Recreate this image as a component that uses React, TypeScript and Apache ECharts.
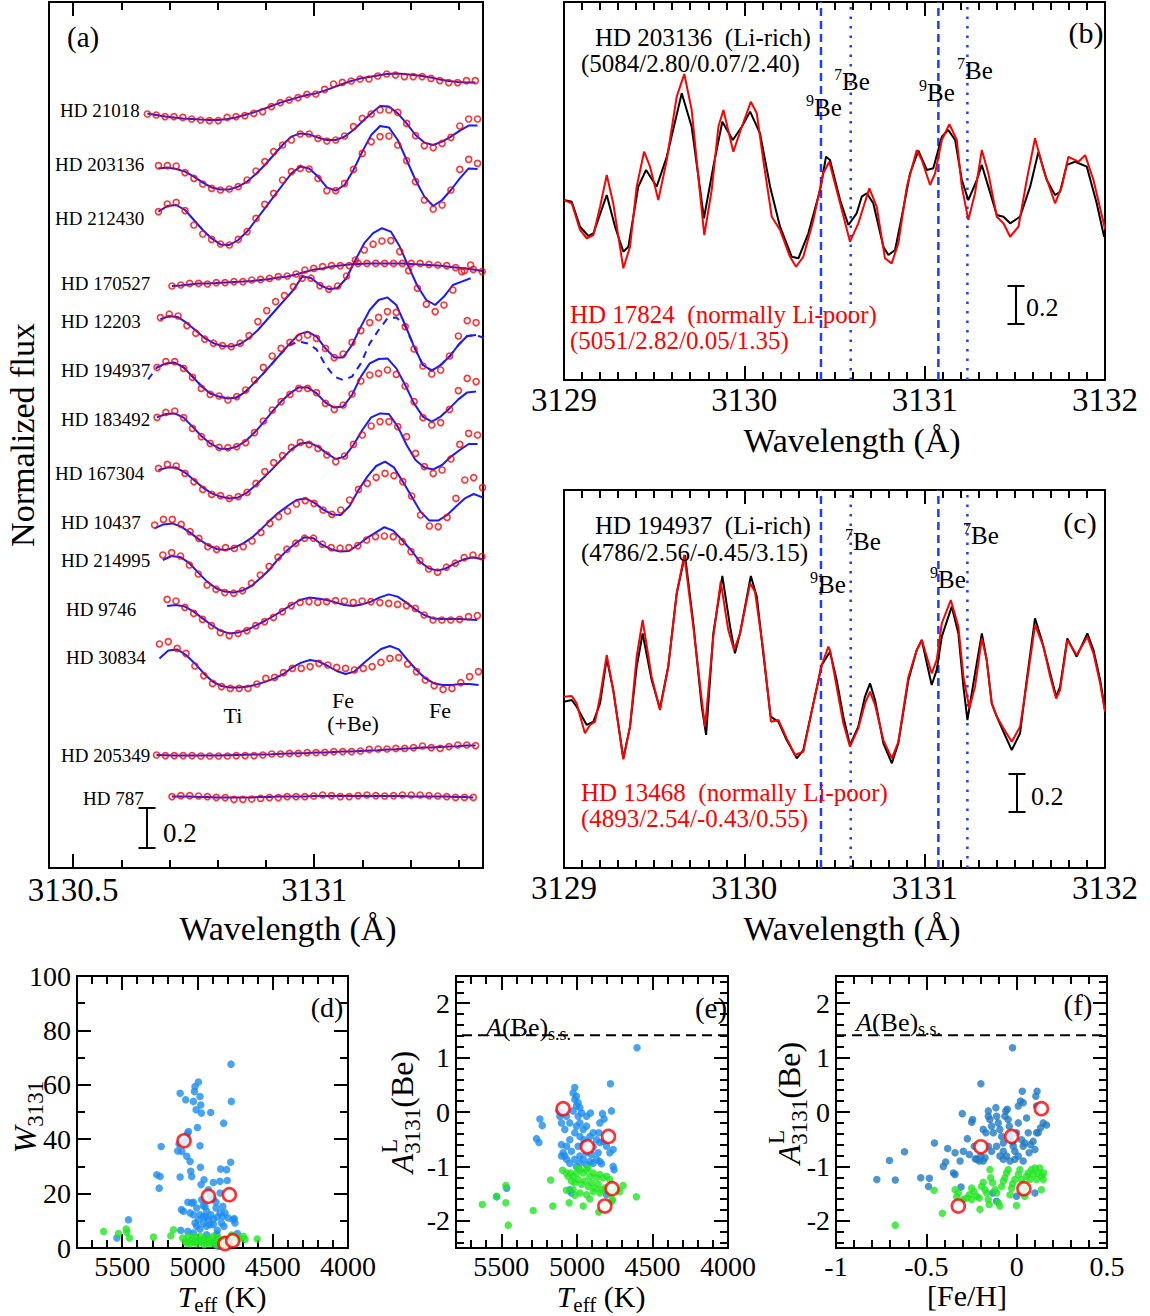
import React, { useEffect, useRef } from "react";
import * as echarts from "echarts";

const FONT = "'Liberation Serif', 'Times New Roman', Times, serif";
const MODEL_BLUE = "#1a1aff";
const RED = "#ff0000";

// ---------------- Panel (a): stacked spectra ----------------
const GRID_STEP_A = 0.01838; // wavelength step of the observed grid (Å)
const starLabels = ["HD 21018", "HD 203136", "HD 212430", "HD 170527", "HD 12203", "HD 194937", "HD 183492", "HD 167304", "HD 10437", "HD 214995", "HD 9746", "HD 30834", "HD 205349", "HD 787"];
const startWavelengths = [3130.654, 3130.677, 3130.677, 3130.705, 3130.681, 3130.674, 3130.674, 3130.677, 3130.669, 3130.686, 3130.695, 3130.679, 3130.673, 3130.705];

const obs21018 = [3.770,3.765,3.757,3.757,3.753,3.745,3.740,3.737,3.737,3.753,3.757,3.762,3.773,3.782,3.807,3.827,3.840,3.852,3.868,3.870,3.893,3.920,3.928,3.935,3.945,3.945,3.960,3.970,3.965,3.957,3.957,3.957,3.948,3.937,3.927,3.927,3.937,3.937];
const fit21018 = [3.773,3.765,3.757,3.753,3.748,3.745,3.742,3.740,3.740,3.745,3.753,3.765,3.778,3.793,3.810,3.827,3.840,3.853,3.865,3.873,3.887,3.903,3.920,3.935,3.947,3.955,3.963,3.970,3.972,3.970,3.965,3.960,3.952,3.943,3.935,3.930,3.927,3.927];
const obs203136 = [3.512,3.512,3.510,3.477,3.448,3.420,3.398,3.390,3.395,3.407,3.440,3.485,3.532,3.582,3.615,3.640,3.670,3.670,3.648,3.635,3.640,3.660,3.707,3.748,3.770,3.790,3.790,3.778,3.723,3.662,3.612,3.602,3.623,3.653,3.710,3.745,3.745];
const fit203136 = [3.498,3.502,3.495,3.482,3.457,3.427,3.403,3.393,3.393,3.407,3.432,3.470,3.515,3.565,3.615,3.657,3.673,3.668,3.652,3.640,3.640,3.657,3.690,3.732,3.773,3.810,3.807,3.773,3.723,3.665,3.627,3.615,3.632,3.657,3.687,3.712,3.712];
const obs212430 = [3.282,3.320,3.328,3.287,3.215,3.170,3.143,3.120,3.115,3.143,3.182,3.248,3.318,3.373,3.440,3.482,3.498,3.495,3.448,3.387,3.387,3.423,3.493,3.573,3.632,3.657,3.660,3.615,3.537,3.432,3.340,3.295,3.315,3.390,3.493,3.543,3.523];
const fit212430 = [3.282,3.310,3.315,3.290,3.240,3.190,3.148,3.118,3.115,3.140,3.182,3.240,3.298,3.357,3.415,3.473,3.507,3.498,3.457,3.403,3.387,3.415,3.490,3.582,3.665,3.710,3.703,3.640,3.540,3.440,3.357,3.310,3.340,3.390,3.448,3.498,3.495];
const obs170527 = [2.910,2.915,2.923,2.923,2.920,2.927,2.927,2.932,2.932,2.940,2.943,2.948,2.957,2.960,2.970,2.990,2.998,3.007,3.012,3.012,3.012,3.023,3.023,3.023,3.023,3.023,3.023,3.023,3.023,3.018,3.015,3.012,3.002,2.987,2.993,2.982];
const fit170527 = [2.910,2.913,2.918,2.922,2.923,2.925,2.928,2.930,2.932,2.935,2.940,2.945,2.952,2.958,2.968,2.980,2.992,2.998,3.007,3.012,3.017,3.020,3.023,3.023,3.023,3.023,3.022,3.020,3.018,3.015,3.012,3.007,3.002,2.997,2.992,2.985];
const obs12203 = [2.752,2.769,2.760,2.712,2.674,2.644,2.624,2.612,2.607,2.624,2.662,2.732,2.787,2.832,2.862,2.907,2.949,2.949,2.912,2.894,2.910,2.960,3.040,3.090,3.119,3.135,3.137,3.082,2.987,2.899,2.819,2.782,2.815,2.890,2.982,3.015];
const fit12203 = [2.744,2.760,2.754,2.724,2.687,2.649,2.624,2.610,2.607,2.620,2.649,2.690,2.740,2.790,2.840,2.890,2.957,2.950,2.915,2.894,2.900,2.950,3.040,3.124,3.174,3.199,3.182,3.107,3.007,2.910,2.840,2.815,2.857,2.915,2.932,2.949];
const obs194937 = [2.503,2.532,2.532,2.498,2.453,2.398,2.368,2.360,2.340,2.357,2.390,2.440,2.503,2.560,2.598,2.628,2.652,2.665,2.648,2.598,2.552,2.570,2.628,2.687,2.727,2.753,2.782,2.778,2.707,2.595,2.510,2.470,2.490,2.560,2.660,2.737,2.727];
const fit194937 = [2.503,2.523,2.527,2.503,2.457,2.410,2.373,2.357,2.348,2.353,2.382,2.427,2.473,2.523,2.573,2.623,2.668,2.682,2.657,2.598,2.553,2.553,2.615,2.707,2.790,2.840,2.853,2.815,2.715,2.607,2.515,2.487,2.515,2.557,2.615,2.660,2.665];
// alternative synthesis for HD 194937 (dashed), starts one grid step earlier
const alt194937 = [2.443,2.503,2.523,2.527,2.503,2.457,2.410,2.373,2.357,2.348,2.353,2.382,2.427,2.473,2.523,2.573,2.615,2.632,2.623,2.593,2.515,2.457,2.440,2.457,2.523,2.623,2.690,2.748,2.753,2.710,2.607,2.515,2.487,2.515,2.557,2.615,2.660,2.665,2.648];
const obs183492 = [2.253,2.278,2.285,2.252,2.198,2.157,2.123,2.103,2.102,2.107,2.127,2.177,2.235,2.290,2.332,2.368,2.398,2.398,2.377,2.323,2.293,2.315,2.370,2.435,2.465,2.473,2.490,2.468,2.410,2.332,2.252,2.215,2.227,2.293,2.387,2.448,2.432];
const fit183492 = [2.253,2.270,2.273,2.252,2.207,2.160,2.123,2.098,2.095,2.107,2.135,2.177,2.227,2.282,2.332,2.373,2.403,2.403,2.373,2.327,2.302,2.307,2.365,2.457,2.523,2.545,2.548,2.498,2.415,2.323,2.257,2.232,2.257,2.298,2.343,2.378,2.382];
const obs167304 = [1.998,2.018,2.010,1.973,1.932,1.893,1.868,1.862,1.848,1.857,1.878,1.923,1.982,2.027,2.062,2.103,2.128,2.118,2.098,2.065,2.032,2.060,2.118,2.165,2.210,2.232,2.232,2.207,2.157,2.073,2.007,1.973,1.990,2.045,2.118,2.173,2.165];
const fit167304 = [1.990,2.002,2.002,1.977,1.940,1.903,1.873,1.857,1.848,1.853,1.877,1.915,1.957,2.002,2.048,2.093,2.123,2.127,2.107,2.073,2.045,2.057,2.115,2.190,2.253,2.273,2.270,2.207,2.115,2.040,2.003,1.993,2.015,2.057,2.090,2.120,2.120];
const obs10437 = [1.715,1.743,1.743,1.718,1.682,1.648,1.607,1.593,1.602,1.598,1.607,1.635,1.678,1.723,1.757,1.785,1.820,1.837,1.823,1.790,1.768,1.790,1.840,1.893,1.923,1.953,1.973,1.962,1.932,1.860,1.765,1.710,1.707,1.753,1.848,1.940,1.952,1.902];
const fit10437 = [1.698,1.718,1.723,1.707,1.677,1.643,1.615,1.595,1.590,1.602,1.623,1.653,1.693,1.737,1.777,1.810,1.840,1.848,1.827,1.793,1.768,1.765,1.810,1.890,1.957,2.010,2.032,2.003,1.932,1.857,1.782,1.737,1.737,1.765,1.807,1.848,1.870,1.853];
const obs214995 = [1.565,1.577,1.560,1.515,1.470,1.415,1.394,1.377,1.374,1.387,1.424,1.465,1.508,1.554,1.594,1.624,1.649,1.649,1.619,1.602,1.599,1.602,1.612,1.640,1.657,1.660,1.657,1.632,1.582,1.537,1.495,1.479,1.504,1.524,1.552,1.565,1.557];
const fit214995 = [1.540,1.560,1.554,1.524,1.477,1.432,1.399,1.382,1.377,1.387,1.410,1.449,1.490,1.544,1.587,1.624,1.654,1.649,1.615,1.594,1.582,1.585,1.615,1.649,1.677,1.704,1.687,1.640,1.590,1.532,1.499,1.487,1.499,1.524,1.544,1.554,1.544];
const obs9746 = [1.343,1.335,1.303,1.273,1.243,1.212,1.177,1.162,1.173,1.187,1.212,1.232,1.253,1.282,1.312,1.328,1.332,1.328,1.332,1.337,1.335,1.328,1.335,1.332,1.327,1.323,1.318,1.312,1.298,1.265,1.240,1.240,1.240,1.243,1.257,1.262];
const fit9746 = [1.310,1.315,1.307,1.282,1.248,1.215,1.187,1.173,1.177,1.190,1.212,1.235,1.260,1.287,1.315,1.340,1.352,1.348,1.340,1.328,1.315,1.310,1.318,1.332,1.353,1.368,1.357,1.327,1.293,1.265,1.248,1.245,1.245,1.245,1.243,1.240];
const obs30834 = [1.120,1.132,1.098,1.073,1.010,0.962,0.923,0.907,0.898,0.898,0.898,0.920,0.948,0.953,0.977,0.998,0.998,1.007,1.023,1.015,1.003,0.998,0.990,0.998,1.007,1.028,1.048,1.052,1.020,0.982,0.940,0.912,0.893,0.898,0.927,0.957,0.982];
const fit30834 = [1.048,1.087,1.093,1.065,1.023,0.973,0.932,0.910,0.902,0.902,0.907,0.918,0.932,0.948,0.970,1.003,1.027,1.040,1.032,1.010,0.985,0.970,0.982,1.023,1.060,1.095,1.110,1.093,1.040,0.990,0.948,0.923,0.915,0.915,0.920,0.920,0.915];
const obs205349 = [0.565,0.562,0.562,0.562,0.562,0.560,0.560,0.560,0.560,0.562,0.562,0.562,0.565,0.570,0.570,0.573,0.573,0.577,0.577,0.578,0.582,0.582,0.582,0.585,0.593,0.595,0.595,0.598,0.598,0.602,0.610,0.602,0.598,0.607,0.615,0.615,0.612];
const fit205349 = [0.565,0.564,0.563,0.563,0.563,0.563,0.563,0.563,0.564,0.565,0.566,0.567,0.568,0.569,0.571,0.573,0.574,0.575,0.577,0.578,0.580,0.582,0.583,0.585,0.587,0.589,0.592,0.594,0.598,0.599,0.602,0.603,0.605,0.607,0.609,0.612,0.613];
const obs787 = [0.357,0.362,0.362,0.360,0.357,0.353,0.352,0.343,0.343,0.345,0.348,0.352,0.352,0.357,0.357,0.357,0.360,0.365,0.362,0.357,0.357,0.362,0.365,0.362,0.360,0.362,0.365,0.365,0.365,0.362,0.360,0.357,0.353,0.353,0.353];
const fit787 = [0.357,0.357,0.357,0.355,0.355,0.353,0.353,0.353,0.353,0.353,0.355,0.355,0.357,0.357,0.358,0.358,0.360,0.360,0.360,0.360,0.360,0.360,0.360,0.360,0.360,0.360,0.360,0.358,0.358,0.358,0.357,0.357,0.355,0.355,0.353];

const observedSets = [obs21018, obs203136, obs212430, obs170527, obs12203, obs194937, obs183492, obs167304, obs10437, obs214995, obs9746, obs30834, obs205349, obs787];
const fitSets = [fit21018, fit203136, fit212430, fit170527, fit12203, fit194937, fit183492, fit167304, fit10437, fit214995, fit9746, fit30834, fit205349, fit787];
// label anchor (left, middle) for each star name
const starLabelPos = [[60,110],[55,164],[55,218],[61,283],[61,321],[61,370],[61,419],[55,473],[61,522],[61,560],[66,609],[66,657],[61,755],[83,798]];

// ---------------- Panels (b), (c) ----------------
const specB_LiRich = [[3129.000,0.952],[3129.043,0.943],[3129.089,0.811],[3129.135,0.762],[3129.163,0.776],[3129.237,0.979],[3129.283,0.811],[3129.329,0.679],[3129.357,0.705],[3129.412,1.023],[3129.455,1.111],[3129.514,1.023],[3129.570,1.181],[3129.653,1.517],[3129.708,1.340],[3129.776,0.856],[3129.828,1.129],[3129.878,1.367],[3129.936,1.270],[3129.986,1.340],[3130.032,1.420],[3130.087,1.305],[3130.143,1.023],[3130.198,0.811],[3130.263,0.652],[3130.300,0.644],[3130.355,0.776],[3130.420,1.005],[3130.453,1.181],[3130.475,1.164],[3130.531,0.952],[3130.577,0.820],[3130.623,0.882],[3130.651,0.970],[3130.679,0.988],[3130.715,0.935],[3130.771,0.705],[3130.799,0.661],[3130.836,0.688],[3130.873,0.864],[3130.919,1.094],[3130.965,1.213],[3131.012,1.111],[3131.048,1.120],[3131.095,1.287],[3131.131,1.323],[3131.169,1.270],[3131.206,1.058],[3131.242,0.952],[3131.289,1.058],[3131.317,1.138],[3131.353,1.023],[3131.400,0.873],[3131.437,0.864],[3131.474,0.829],[3131.529,0.864],[3131.585,1.023],[3131.631,1.208],[3131.677,1.058],[3131.723,0.979],[3131.751,0.996],[3131.788,1.138],[3131.834,1.155],[3131.899,1.129],[3131.954,0.935],[3131.995,0.758]];
const specB_LiPoor = [[3129.000,0.952],[3129.043,0.935],[3129.089,0.794],[3129.126,0.750],[3129.163,0.767],[3129.200,0.917],[3129.237,1.085],[3129.273,0.935],[3129.329,0.591],[3129.366,0.705],[3129.403,1.023],[3129.444,1.208],[3129.477,1.129],[3129.523,0.952],[3129.570,1.164],[3129.625,1.499],[3129.667,1.619],[3129.708,1.429],[3129.754,0.988],[3129.778,0.767],[3129.819,1.005],[3129.856,1.340],[3129.884,1.429],[3129.939,1.208],[3129.986,1.340],[3130.036,1.472],[3130.069,1.411],[3130.105,1.164],[3130.152,0.864],[3130.198,0.794],[3130.253,0.652],[3130.287,0.599],[3130.327,0.652],[3130.383,0.847],[3130.438,1.094],[3130.471,1.155],[3130.531,0.935],[3130.586,0.732],[3130.632,0.829],[3130.693,1.014],[3130.734,0.917],[3130.780,0.644],[3130.817,0.617],[3130.854,0.723],[3130.901,1.023],[3130.956,1.217],[3130.984,1.164],[3131.030,1.032],[3131.058,1.094],[3131.095,1.270],[3131.137,1.354],[3131.178,1.270],[3131.206,1.023],[3131.242,0.847],[3131.279,0.988],[3131.317,1.217],[3131.353,1.094],[3131.400,0.864],[3131.437,0.829],[3131.474,0.758],[3131.520,0.811],[3131.566,1.058],[3131.612,1.279],[3131.659,1.111],[3131.723,0.935],[3131.760,1.023],[3131.797,1.181],[3131.853,1.155],[3131.890,1.190],[3131.936,1.058],[3132.000,0.800]];
const specC_LiRich = [[3129.000,0.880],[3129.043,0.889],[3129.070,0.853],[3129.126,0.757],[3129.163,0.774],[3129.200,0.871],[3129.237,1.109],[3129.273,0.942],[3129.329,0.580],[3129.366,0.748],[3129.403,1.065],[3129.436,1.241],[3129.486,0.995],[3129.532,0.844],[3129.578,1.065],[3129.625,1.453],[3129.671,1.656],[3129.717,1.295],[3129.764,0.853],[3129.788,0.704],[3129.828,1.241],[3129.878,1.545],[3129.921,1.277],[3129.948,1.136],[3129.976,1.241],[3130.036,1.545],[3130.069,1.436],[3130.105,1.136],[3130.146,0.801],[3130.189,0.774],[3130.235,0.677],[3130.291,0.580],[3130.327,0.624],[3130.383,0.871],[3130.429,1.074],[3130.475,1.144],[3130.512,0.995],[3130.549,0.801],[3130.586,0.651],[3130.632,0.748],[3130.669,0.907],[3130.697,0.977],[3130.725,0.889],[3130.771,0.660],[3130.818,0.554],[3130.854,0.660],[3130.910,0.995],[3130.956,1.153],[3130.984,1.206],[3131.012,1.083],[3131.039,0.968],[3131.067,1.048],[3131.095,1.224],[3131.150,1.383],[3131.187,1.241],[3131.215,0.959],[3131.237,0.783],[3131.270,0.977],[3131.317,1.241],[3131.344,1.101],[3131.372,0.871],[3131.400,0.801],[3131.437,0.721],[3131.483,0.624],[3131.529,0.713],[3131.566,0.995],[3131.612,1.321],[3131.649,1.206],[3131.696,1.030],[3131.729,0.907],[3131.751,0.959],[3131.791,1.215],[3131.843,1.118],[3131.902,1.241],[3131.936,1.153],[3131.973,0.995],[3132.000,0.836]];
const specC_LiPoor = [[3129.000,0.906],[3129.043,0.910],[3129.070,0.871],[3129.116,0.713],[3129.144,0.757],[3129.172,0.774],[3129.200,0.906],[3129.237,1.127],[3129.273,0.942],[3129.329,0.575],[3129.366,0.748],[3129.403,1.118],[3129.436,1.312],[3129.486,1.012],[3129.532,0.836],[3129.578,1.065],[3129.625,1.453],[3129.667,1.656],[3129.717,1.277],[3129.764,0.889],[3129.782,0.748],[3129.828,1.224],[3129.869,1.515],[3129.911,1.259],[3129.943,1.153],[3129.976,1.241],[3130.032,1.506],[3130.059,1.462],[3130.105,1.153],[3130.148,0.774],[3130.189,0.783],[3130.235,0.686],[3130.281,0.598],[3130.327,0.615],[3130.383,0.871],[3130.429,1.074],[3130.466,1.171],[3130.475,1.153],[3130.512,0.959],[3130.549,0.766],[3130.586,0.642],[3130.632,0.739],[3130.669,0.871],[3130.697,0.933],[3130.725,0.862],[3130.771,0.677],[3130.818,0.580],[3130.854,0.668],[3130.910,1.012],[3130.956,1.153],[3130.984,1.206],[3131.012,1.118],[3131.039,1.030],[3131.067,1.101],[3131.095,1.295],[3131.145,1.418],[3131.187,1.277],[3131.215,1.012],[3131.248,0.845],[3131.279,0.959],[3131.317,1.215],[3131.344,1.101],[3131.372,0.871],[3131.400,0.801],[3131.437,0.739],[3131.483,0.668],[3131.529,0.748],[3131.566,0.977],[3131.612,1.286],[3131.659,1.171],[3131.696,1.012],[3131.729,0.897],[3131.751,0.942],[3131.791,1.206],[3131.843,1.127],[3131.902,1.224],[3131.936,1.136],[3131.973,0.977],[3132.000,0.827]];
const be9Lines = [3130.425, 3131.076];
const be7Lines = [3130.59, 3131.237];

// ---------------- Panels (d), (e), (f) ----------------
const wBlue = [[4777,67.6],[4994,61.0],[5016,59.4],[5020,57.5],[5115,56.9],[5078,54.5],[4983,55.7],[5027,53.9],[4978,52.6],[4912,49.8],[5009,50.8],[4974,49.6],[4775,53.9],[4826,45.9],[5000,44.3],[5060,42.8],[5067,42.0],[5071,39.8],[5095,38.8],[5122,38.2],[5131,35.7],[4983,37.6],[5104,35.5],[5071,33.7],[5049,31.8],[5241,37.3],[4846,29.0],[4806,28.8],[4779,31.5],[4980,29.7],[5045,28.2],[5038,26.3],[5115,26.1],[5270,26.9],[5248,26.3],[5254,22.0],[4956,25.1],[4894,24.1],[4850,24.5],[4802,24.8],[4976,23.3],[5106,14.1],[5093,13.5],[5038,16.5],[5027,16.8],[4961,15.5],[4950,15.3],[4894,18.0],[4877,16.9],[4850,20.2],[4983,12.2],[4961,11.6],[4943,11.4],[4927,10.4],[4912,12.2],[4894,10.6],[4868,11.4],[4850,12.9],[4832,11.6],[4817,12.9],[4795,11.0],[4755,10.8],[4751,9.2],[5016,9.2],[5005,8.0],[4983,7.0],[4939,8.0],[4894,8.6],[4868,6.5],[4841,9.2],[4824,8.0],[5458,10.4],[5535,3.7],[5111,6.5],[5064,6.1],[5027,5.5],[4939,4.9],[4872,5.1],[4735,5.3],[4894,1.8],[4861,0.6],[4916,19.0],[4927,21.4],[5064,16.8],[5005,14.7],[5049,12.9],[4994,10.4],[4961,9.2],[4916,8.6],[4877,14.7],[4832,15.3],[4939,13.5],[4972,17.7],[5027,12.2],[4762,10.4]];
const wGreen = [[5623,6.1],[5524,5.3],[5473,7.0],[5469,5.8],[5451,3.7],[5292,4.0],[5177,4.5],[5159,6.7],[5098,3.7],[5082,2.4],[5071,1.8],[5060,4.3],[5049,1.6],[5038,3.3],[5027,2.1],[5016,4.0],[5005,1.6],[4994,3.1],[4983,4.3],[4972,2.1],[4961,2.8],[4950,3.7],[4939,1.8],[4927,3.3],[4916,1.6],[4905,2.8],[4894,4.3],[4883,2.1],[4872,3.1],[4861,3.7],[4850,1.6],[4832,2.4],[4817,3.3],[4806,1.2],[4784,3.3],[4773,4.8],[4762,4.0],[4740,3.1],[4718,3.7],[4695,4.3],[4684,3.1],[4603,3.3],[5009,2.4],[4956,1.2],[4877,1.2]];
const wRed = [[5089,39.4],[4927,19.0],[4788,19.6],[4817,1.6],[4766,2.7]];

const aTeffBlue = [[4602,1.18],[4778,0.52],[5014,0.45],[5025,0.35],[5003,0.29],[5014,0.23],[4992,0.17],[5003,0.11],[4980,0.08],[5119,0.02],[5102,-0.02],[5025,0.02],[4969,-0.02],[4910,-0.02],[4831,-0.03],[4771,0.02],[5113,-0.08],[5069,-0.08],[4992,-0.08],[4936,-0.08],[4820,-0.13],[5245,-0.13],[5229,-0.25],[5102,-0.20],[5047,-0.20],[4980,-0.20],[4848,-0.20],[4958,-0.32],[5080,-0.32],[4936,-0.26],[4892,-0.38],[5014,-0.38],[4980,-0.45],[5047,-0.51],[4914,-0.45],[4870,-0.51],[5267,-0.49],[5251,-0.56],[5102,-0.60],[4848,-0.56],[4826,-0.54],[4804,-0.63],[5069,-0.63],[4992,-0.63],[4958,-0.60],[4892,-0.64],[5091,-0.75],[5036,-0.72],[4782,-0.75],[4760,-0.69],[5102,-0.81],[4936,-0.75],[4859,-0.75],[4980,-0.81],[5069,-0.87],[5014,-0.87],[4958,-0.87],[4914,-0.91],[4870,-0.87],[5047,-0.94],[5003,-1.00],[4980,-0.94],[4936,-0.97],[4892,-0.94],[4848,-0.91],[4837,-0.95],[4760,-1.00],[4754,-1.06],[5465,-1.40],[5531,-1.56],[5047,-1.43],[5036,-1.49],[4804,-1.52],[5080,-0.81],[4903,-0.78],[4954,-0.51],[4855,-0.38],[5003,-0.26]];
const aTeffGreen = [[5626,-1.70],[5531,-1.55],[5470,-1.35],[5470,-1.67],[5454,-2.08],[5289,-1.81],[5174,-1.25],[5159,-1.73],[5095,-1.07],[5069,-1.44],[5051,-1.67],[5043,-1.12],[5025,-1.18],[5003,-1.12],[4980,-1.06],[4958,-1.12],[4936,-1.06],[4914,-1.18],[4892,-1.12],[4870,-1.21],[4848,-1.15],[4826,-1.21],[4804,-1.18],[4782,-1.24],[5014,-1.30],[4992,-1.24],[4969,-1.33],[4947,-1.27],[4925,-1.37],[4903,-1.30],[4881,-1.40],[4859,-1.33],[4837,-1.43],[4815,-1.40],[5025,-1.43],[4980,-1.49],[4936,-1.52],[4892,-1.46],[4848,-1.49],[4782,-1.49],[4765,-1.61],[4738,-1.43],[4716,-1.46],[4694,-1.35],[4958,-1.73],[5014,-1.53],[4914,-1.60],[4855,-1.84],[4606,-1.56],[4767,-1.64],[4925,-1.03],[4990,-1.03],[5058,-1.18],[5069,-1.12],[5036,-1.27]];
const aTeffRed = [[5091,0.06],[4930,-0.64],[4791,-0.45],[4767,-1.41],[4815,-1.73]];

const aFehBlue = [[-0.023,1.18],[-0.774,-1.24],[-0.704,-0.89],[-0.672,-1.25],[-0.621,-0.73],[-0.531,-1.21],[-0.488,-1.37],[-0.483,-1.22],[-0.455,-0.57],[-0.406,-1.00],[-0.393,-0.92],[-0.382,-0.67],[-0.350,-1.12],[-0.341,-0.75],[-0.341,-1.15],[-0.313,-0.90],[-0.308,-1.38],[-0.301,-0.03],[-0.295,-0.72],[-0.273,-0.49],[-0.262,-0.78],[-0.249,-0.19],[-0.244,-0.14],[-0.234,-0.63],[-0.229,-0.86],[-0.221,-0.87],[-0.207,-0.90],[-0.199,-0.81],[-0.185,-0.90],[-0.175,-0.84],[-0.198,0.52],[-0.185,-0.32],[-0.170,-0.38],[-0.157,-0.08],[-0.157,0.02],[-0.148,-0.14],[-0.139,-0.26],[-0.129,-0.38],[-0.115,0.08],[-0.111,-0.08],[-0.102,-0.20],[-0.093,-0.32],[-0.083,-0.45],[-0.074,-0.57],[-0.065,-0.08],[-0.060,0.02],[-0.052,0.05],[-0.047,-0.14],[-0.041,-0.26],[-0.037,-0.45],[-0.023,-0.55],[-0.019,-0.63],[-0.010,-0.72],[-0.001,-0.38],[0.009,-0.20],[0.021,0.20],[0.031,0.38],[0.027,-0.51],[0.036,-0.63],[0.045,-0.57],[0.055,-0.11],[0.064,-0.38],[0.069,-0.75],[0.077,-0.60],[0.091,-0.54],[0.101,-0.69],[0.110,0.11],[0.110,-0.38],[0.106,0.29],[0.113,0.38],[0.119,-0.38],[0.132,-0.29],[0.147,-0.20],[0.165,-0.24],[-0.093,-0.81],[-0.074,-0.87],[-0.056,-0.81],[-0.037,-0.90],[-0.010,-0.87],[0.009,-0.81],[0.036,-0.90],[-0.157,-0.63],[-0.139,-0.72],[-0.111,-0.63],[-0.074,-0.72],[-0.133,-1.49],[-0.111,-1.64],[-0.001,-1.55],[0.101,-1.49],[0.036,0.17],[0.009,0.11]];
const aFehGreen = [[-0.672,-2.08],[-0.457,-1.44],[-0.411,-1.86],[-0.341,-1.43],[-0.332,-1.56],[-0.323,-1.49],[-0.295,-1.61],[-0.277,-1.58],[-0.262,-1.52],[-0.249,-1.40],[-0.236,-1.46],[-0.221,-1.55],[-0.207,-1.58],[-0.203,-1.79],[-0.194,-1.37],[-0.185,-1.29],[-0.175,-1.43],[-0.166,-1.49],[-0.157,-1.61],[-0.152,-1.70],[-0.144,-1.21],[-0.133,-1.30],[-0.120,-1.43],[-0.111,-1.49],[-0.102,-1.67],[-0.093,-1.73],[-0.083,-1.37],[-0.074,-1.27],[-0.065,-1.21],[-0.056,-1.12],[-0.047,-1.06],[-0.037,-1.52],[-0.028,-1.40],[-0.023,-1.32],[-0.010,-1.24],[-0.001,-1.72],[0.009,-1.15],[0.018,-1.06],[0.027,-1.24],[0.036,-1.49],[0.045,-1.37],[0.055,-1.18],[0.064,-1.12],[0.073,-1.24],[0.082,-1.06],[0.091,-1.15],[0.101,-1.03],[0.110,-1.24],[0.119,-1.12],[0.128,-1.03],[0.137,-1.18],[0.147,-1.24],[0.150,-1.12],[0.137,-1.43],[0.045,-1.55],[-0.148,-1.06],[-0.249,-1.61]];
const aFehRed = [[-0.323,-1.73],[-0.198,-0.64],[-0.028,-0.45],[0.040,-1.41],[0.137,0.06]];
const solarBe = 1.41;

// tick values
const ticksA = [3130.5, 3131];
const ticksBC = [3129, 3130, 3131, 3132];
const ticksTeff = [4000, 4500, 5000, 5500];
const ticksW = [0, 20, 40, 60, 80, 100];
const ticksABe = [-2, -1, 0, 1, 2];
const ticksFeH = [-1, -0.5, 0, 0.5];

function between(start: number, end: number, step: number, skip: number[]) {
  const out: number[] = [];
  const n = Math.round((end - start) / step);
  for (let i = 0; i <= n; i++) {
    const v = Math.round((start + i * step) * 1000) / 1000;
    if (!skip.some((s) => Math.abs(s - v) < 1e-6)) out.push(v);
  }
  return out;
}

function axisSet(dim: "x" | "y", spec: any) {
  const sides = dim === "x" ? ["bottom", "top"] : ["left", "right"];
  const res: any[] = [];
  sides.forEach((side, k) => {
    const base = {
      type: "value", gridIndex: spec.grid, min: spec.min, max: spec.max, inverse: !!spec.inverse,
      position: side, splitLine: { show: false }, offset: 0,
    };
    res.push({
      ...base,
      axisLine: { show: true, onZero: false, lineStyle: { color: "#000", width: 2 } },
      axisTick: spec.major.length
        ? { show: true, inside: true, length: 14, customValues: spec.major, lineStyle: { color: "#000", width: 2 } }
        : { show: false },
      axisLabel: k === 0 && spec.labelSize
        ? { show: true, customValues: spec.major, fontFamily: FONT, fontSize: spec.labelSize, color: "#000", margin: spec.margin, formatter: (v: number) => String(v) }
        : { show: false },
    });
    res.push({
      ...base,
      axisLine: { show: false, onZero: false },
      axisTick: spec.minor.length
        ? { show: true, inside: true, length: 8, customValues: spec.minor, lineStyle: { color: "#000", width: 2 } }
        : { show: false },
      axisLabel: { show: false },
    });
  });
  return res;
}

function txt(x: number, y: number, text: string, size: number, extra: any = {}) {
  return {
    type: "text", x, y, silent: true, z: 100,
    style: { text, fontFamily: FONT, fontSize: size, fill: "#000", align: "left", verticalAlign: "middle", ...extra },
  };
}
function seg(x1: number, y1: number, x2: number, y2: number) {
  return { type: "line", silent: true, z: 100, shape: { x1, y1, x2, y2 }, style: { stroke: "#000", lineWidth: 2 } };
}
function scaleBar(x: number, y1: number, y2: number, lx: number, ly: number, size: number) {
  return [seg(x, y1, x, y2), seg(x - 8.5, y1, x + 8.5, y1), seg(x - 8.5, y2, x + 8.5, y2), txt(lx, ly, "0.2", size)];
}
const supRich = {
  p: { fontSize: 16, fontFamily: FONT, fill: "#000", verticalAlign: "top", padding: [0, 0, 14, 0] },
};
function beLabel(x: number, y: number, iso: string) {
  return txt(x, y, `{p|${iso}}Be`, 25, { rich: supRich });
}
const subRich = (main: number, sub: number, pad: number) => ({
  i: { fontSize: main, fontFamily: FONT, fontStyle: "italic", fill: "#000" },
  s: { fontSize: sub, fontFamily: FONT, fill: "#000", verticalAlign: "bottom", padding: [pad, 0, 0, 0] },
});
function aBeTitle(x: number, y: number) {
  return {
    type: "group", x, y, rotation: Math.PI / 2, silent: true,
    children: [
      txt(0, 0, "{i|A}{s|3131}(Be)", 32, { align: "center", rich: subRich(32, 23, 20) }),
      txt(-41, -13, "L", 23),
    ],
  };
}

function buildOption() {
  const grids = [
    { left: 49, top: 2, width: 434, height: 866 },
    { left: 564, top: 2, width: 541, height: 378 },
    { left: 564, top: 490, width: 541, height: 378 },
    { left: 77, top: 976, width: 271, height: 272 },
    { left: 456, top: 976, width: 272, height: 272 },
    { left: 836, top: 976, width: 271, height: 272 },
  ];
  const xAxes: any[] = [];
  const yAxes: any[] = [];
  xAxes.push(...axisSet("x", { grid: 0, min: 3130.45, max: 3131.35, major: ticksA, minor: between(3130.6, 3131.3, 0.1, ticksA), labelSize: 33, margin: 5 }));
  yAxes.push(...axisSet("y", { grid: 0, min: 0, max: 4.33, major: [], minor: [] }));
  [1, 2].forEach((g) => {
    xAxes.push(...axisSet("x", { grid: g, min: 3129, max: 3132, major: ticksBC, minor: between(3129.1, 3131.9, 0.1, ticksBC), labelSize: 33, margin: 3 }));
    yAxes.push(...axisSet("y", { grid: g, min: 0, max: 2, major: [], minor: [] }));
  });
  xAxes.push(...axisSet("x", { grid: 3, min: 4000, max: 5800, inverse: true, major: ticksTeff, minor: between(4100, 5700, 100, ticksTeff), labelSize: 28, margin: 4 }));
  yAxes.push(...axisSet("y", { grid: 3, min: 0, max: 100, major: ticksW, minor: [10, 30, 50, 70, 90], labelSize: 28, margin: 6 }));
  xAxes.push(...axisSet("x", { grid: 4, min: 4000, max: 5800, inverse: true, major: ticksTeff, minor: between(4100, 5700, 100, ticksTeff), labelSize: 28, margin: 4 }));
  yAxes.push(...axisSet("y", { grid: 4, min: -2.5, max: 2.5, major: ticksABe, minor: between(-2.4, 2.4, 0.2, ticksABe), labelSize: 28, margin: 6 }));
  xAxes.push(...axisSet("x", { grid: 5, min: -1, max: 0.5, major: ticksFeH, minor: between(-0.9, 0.4, 0.1, ticksFeH), labelSize: 28, margin: 4 }));
  yAxes.push(...axisSet("y", { grid: 5, min: -2.5, max: 2.5, major: ticksABe, minor: between(-2.4, 2.4, 0.2, ticksABe), labelSize: 28, margin: 6 }));

  const ax = (g: number) => ({ xAxisIndex: 4 * g, yAxisIndex: 4 * g });
  const series: any[] = [];
  const lineS = (g: number, data: any[], color: string, width: number, type: any = "solid", z = 2) => ({
    type: "line", ...ax(g), data, showSymbol: false, symbol: "none", silent: true, z,
    lineStyle: { color, width, type }, emphasis: { disabled: true },
  });

  // panel (a)
  fitSets.forEach((fit, i) => {
    const w0 = startWavelengths[i];
    series.push(lineS(0, fit.map((v, k) => [w0 + k * GRID_STEP_A, v]), MODEL_BLUE, 2));
  });
  {
    const w0 = startWavelengths[5] - GRID_STEP_A;
    series.push(lineS(0, alt194937.map((v, k) => [w0 + k * GRID_STEP_A, v]), MODEL_BLUE, 2, [7, 6]));
  }
  observedSets.forEach((obs, i) => {
    const w0 = startWavelengths[i];
    series.push({
      type: "scatter", ...ax(0), data: obs.map((v, k) => [w0 + k * GRID_STEP_A, v]), symbol: "circle", symbolSize: 6,
      itemStyle: { color: "rgba(255,255,255,0)", borderColor: RED, borderWidth: 1.6 }, silent: true, z: 4,
    });
  });

  // panels (b), (c)
  [1, 2].forEach((g) => {
    be9Lines.forEach((w) => series.push(lineS(g, [[w, 0], [w, 2]], "#1f3cff", 2.5, [8, 5], 1)));
    be7Lines.forEach((w) => series.push(lineS(g, [[w, 0], [w, 2]], "#1f3cff", 2.5, [2.5, 7], 1)));
  });
  series.push(lineS(1, specB_LiRich, "#000", 2));
  series.push(lineS(1, specB_LiPoor, RED, 2, "solid", 3));
  series.push(lineS(2, specC_LiRich, "#000", 2));
  series.push(lineS(2, specC_LiPoor, RED, 2, "solid", 3));

  // panels (d), (e), (f)
  const dot = (g: number, data: any[], color: string) => ({
    type: "scatter", ...ax(g), data, symbol: "circle", symbolSize: 7.5, silent: true,
    itemStyle: { color, borderWidth: 0 }, z: 3,
  });
  const ring = (g: number, data: any[]) => ({
    type: "scatter", ...ax(g), data, symbol: "circle", symbolSize: 13, silent: true,
    itemStyle: { color: "#fff", borderColor: RED, borderWidth: 2.6 }, z: 5,
  });
  series.push(dot(3, wBlue, "#1a8cf0"), dot(3, wGreen, "#22e622"), ring(3, wRed));
  series.push(lineS(4, [[4000, solarBe], [5800, solarBe]], "#000", 2, [10, 6]));
  series.push(dot(4, aTeffBlue, "#1a8cf0"), dot(4, aTeffGreen, "#22e622"), ring(4, aTeffRed));
  series.push(lineS(5, [[-1, solarBe], [0.5, solarBe]], "#000", 2, [10, 6]));
  series.push(dot(5, aFehBlue, "#1f7bc4"), dot(5, aFehGreen, "#22e622"), ring(5, aFehRed));

  // texts and annotations
  const g: any[] = [];
  g.push(txt(67, 37, "(a)", 29));
  starLabels.forEach((name, i) => g.push(txt(starLabelPos[i][0], starLabelPos[i][1], name, 19)));
  g.push(txt(233, 715, "Ti", 22, { align: "center" }));
  g.push(txt(343, 700, "Fe", 22, { align: "center" }));
  g.push(txt(353, 723, "(+Be)", 22, { align: "center" }));
  g.push(txt(440, 710, "Fe", 22, { align: "center" }));
  g.push(...scaleBar(147, 808, 848, 163, 833, 27));
  g.push({ type: "group", x: 22, y: 435, rotation: Math.PI / 2, silent: true, children: [txt(0, 0, "Normalized flux", 34, { align: "center" })] });
  g.push(txt(288, 928, "Wavelength (Å)", 34, { align: "center" }));

  // (b)
  g.push(txt(1086, 32, "(b)", 30, { align: "center" }));
  g.push(txt(595, 37, "HD 203136  (Li-rich)", 25));
  g.push(txt(581, 63, "(5084/2.80/0.07/2.40)", 25));
  g.push(txt(570, 314, "HD 17824  (normally Li-poor)", 25, { fill: RED }));
  g.push(txt(570, 340, "(5051/2.82/0.05/1.35)", 25, { fill: RED }));
  g.push(beLabel(806, 107, "9"), beLabel(834, 81, "7"), beLabel(919, 92, "9"), beLabel(957, 70, "7"));
  g.push(...scaleBar(1016, 286, 324, 1026, 307, 26));
  g.push(txt(852, 440, "Wavelength (Å)", 34, { align: "center" }));

  // (c)
  g.push(txt(1080, 522, "(c)", 30, { align: "center" }));
  g.push(txt(595, 525, "HD 194937  (Li-rich)", 25));
  g.push(txt(581, 552, "(4786/2.56/-0.45/3.15)", 25));
  g.push(txt(581, 792, "HD 13468  (normally Li-poor)", 25, { fill: RED }));
  g.push(txt(581, 818, "(4893/2.54/-0.43/0.55)", 25, { fill: RED }));
  g.push(beLabel(810, 584, "9"), beLabel(845, 541, "7"), beLabel(930, 579, "9"), beLabel(963, 535, "7"));
  g.push(...scaleBar(1017, 774, 812, 1031, 796, 26));
  g.push(txt(852, 928, "Wavelength (Å)", 34, { align: "center" }));

  // (d)
  g.push(txt(327, 1007, "(d)", 28, { align: "center" }));
  g.push({ type: "group", x: 25, y: 1117, rotation: Math.PI / 2, silent: true, children: [txt(0, 0, "{i|W}{s|3131}", 32, { align: "center", rich: subRich(32, 23, 20) })] });
  g.push(txt(222, 1296, "{i|T}{s|eff} (K)", 30, { align: "center", rich: subRich(30, 21, 18) }));
  // (e)
  g.push(txt(711, 1008, "(e)", 29, { align: "center" }));
  g.push(aBeTitle(402, 1112));
  g.push(txt(601, 1296, "{i|T}{s|eff} (K)", 30, { align: "center", rich: subRich(30, 21, 18) }));
  g.push(txt(486, 1027, "{i|A}(Be){s|s.s.}", 26, { rich: subRich(26, 18, 14) }));
  // (f)
  g.push(txt(1078, 1005, "(f)", 29, { align: "center" }));
  g.push(aBeTitle(789, 1103));
  g.push(txt(967, 1295, "[Fe/H]", 30, { align: "center" }));
  g.push(txt(856, 1022, "{i|A}(Be){s|s.s.}", 26, { rich: subRich(26, 18, 14) }));

  return {
    animation: false,
    backgroundColor: "#fff",
    grid: grids,
    xAxis: xAxes,
    yAxis: yAxes,
    series,
    graphic: { elements: g },
  };
}

export default function App() {
  const ref = useRef<HTMLDivElement>(null);
  useEffect(() => {
    document.body.style.margin = "0";
    const chart = echarts.init(ref.current as HTMLDivElement, null, { renderer: "svg" });
    chart.setOption(buildOption() as any);
    return () => chart.dispose();
  }, []);
  return <div ref={ref} style={{ width: 1150, height: 1316, background: "#fff" }} />;
}
